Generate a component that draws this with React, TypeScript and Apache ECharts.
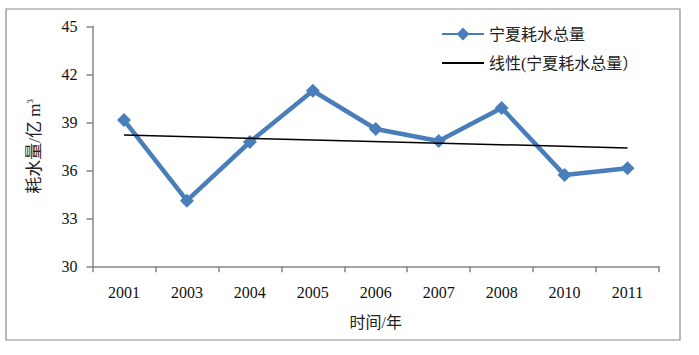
import React, { useEffect, useRef } from "react";
import * as echarts from "echarts";

const years = ["2001", "2003", "2004", "2005", "2006", "2007", "2008", "2010", "2011"];
const waterUse = [39.14, 34.1, 37.77, 40.97, 38.58, 37.83, 39.9, 35.7, 36.13];
const trendStart = 38.2;
const trendEnd = 37.4;
const seriesName = "宁夏耗水总量";
const trendName = "线性(宁夏耗水总量）";
const yMin = 30;
const yMax = 45;
const yStep = 3;

const FONT = "Liberation Serif, Noto Sans CJK SC, serif";

export default function App() {
  const ref = useRef<HTMLDivElement>(null);
  useEffect(() => {
    document.body.style.margin = "0";
    if (!ref.current) return;
    const chart = echarts.init(ref.current, undefined, { renderer: "svg" });
    const trendData = years.map((_, i) =>
      i === 0 ? trendStart : i === years.length - 1 ? trendEnd : "-"
    );
    chart.setOption({
      animation: false,
      backgroundColor: "#ffffff",
      textStyle: { fontFamily: FONT },
      grid: { left: 92.5, right: 40, top: 26.3, bottom: 88.7, containLabel: false },
      legend: {
        orient: "vertical",
        left: 436,
        top: 21,
        itemGap: 13,
        itemWidth: 42,
        itemHeight: 16,
        textStyle: { fontFamily: FONT, fontSize: 16, color: "#222" },
        data: [
          { name: seriesName },
          { name: trendName, itemStyle: { opacity: 0 } },
        ],
      },
      xAxis: {
        type: "category",
        data: years,
        boundaryGap: true,
        name: "时间/年",
        nameLocation: "middle",
        nameGap: 48,
        nameTextStyle: { fontFamily: FONT, fontSize: 16, color: "#222" },
        axisLine: { lineStyle: { color: "#868686", width: 1.5 } },
        axisTick: { show: true, length: 6, interval: 0, lineStyle: { color: "#868686", width: 1.5 } },
        axisLabel: { fontFamily: FONT, fontSize: 16, color: "#111", margin: 18, interval: 0 },
        splitLine: { show: false },
      },
      yAxis: {
        type: "value",
        min: yMin,
        max: yMax,
        interval: yStep,
        name: "耗水量/亿 m{sup|3}",
        nameLocation: "middle",
        nameRotate: 90,
        nameGap: 50,
        nameTextStyle: {
          fontFamily: FONT,
          fontSize: 17,
          color: "#222",
          rich: { sup: { fontSize: 9, verticalAlign: "top", fontFamily: FONT, color: "#222", padding: [0, 0, 6, 0] } },
        },
        axisLine: { show: true, lineStyle: { color: "#868686", width: 1.5 } },
        axisTick: { show: true, length: 6, lineStyle: { color: "#868686", width: 1.5 } },
        axisLabel: { fontFamily: FONT, fontSize: 16, color: "#111", margin: 15 },
        splitLine: { show: false },
      },
      graphic: [
        {
          type: "rect",
          shape: { x: 6, y: 9, width: 674, height: 331 },
          style: { fill: "none", stroke: "#8c8c8c", lineWidth: 1.2 },
          silent: true,
          z: -1,
        },
      ],
      series: [
        {
          name: seriesName,
          type: "line",
          data: waterUse,
          symbol: "diamond",
          symbolSize: 14,
          itemStyle: { color: "#4a7ebb" },
          lineStyle: { color: "#4a7ebb", width: 4.5 },
          z: 2,
        },
        {
          name: trendName,
          type: "line",
          data: trendData,
          connectNulls: true,
          symbol: "none",
          itemStyle: { color: "#000" },
          lineStyle: { color: "#000", width: 1.5 },
          z: 3,
        },
      ],
    });
    return () => chart.dispose();
  }, []);
  return <div ref={ref} style={{ width: 699, height: 355 }} />;
}
